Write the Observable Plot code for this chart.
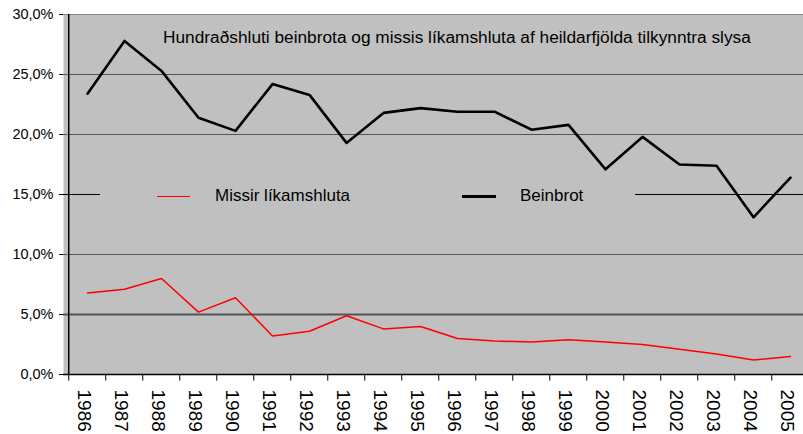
<!DOCTYPE html>
<html><head><meta charset="utf-8">
<script src="https://cdn.jsdelivr.net/npm/d3@7"></script>
<script src="https://cdn.jsdelivr.net/npm/@observablehq/plot@0.6"></script>
<style>
html,body{margin:0;padding:0;background:#fff;}
#wrap{position:relative;width:803px;height:434px;overflow:hidden;font-family:"Liberation Sans",Arial,sans-serif;}
#title{position:absolute;left:163px;top:27px;font-size:17.3px;white-space:nowrap;color:#000;}
#legend{position:absolute;left:100px;top:181px;width:535px;height:30px;background:#c0c0c0;}
.sw{position:absolute;}
.lt{position:absolute;font-size:17px;white-space:nowrap;color:#000;top:5px;}
</style></head>
<body><div id="wrap">
<div id="chart"></div>
<div id="title">Hundraðshluti beinbrota og missis líkamshluta af heildarfjölda tilkynntra slysa</div>
<div id="legend">
 <div class="sw" style="left:57px;top:15px;width:33px;border-top:1.5px solid #ff0000;"></div>
 <div class="lt" style="left:115px;">Missir líkamshluta</div>
 <div class="sw" style="left:362px;top:14px;width:34px;border-top:3px solid #000;"></div>
 <div class="lt" style="left:420px;">Beinbrot</div>
</div>
</div>
<script>
const years = [1986,1987,1988,1989,1990,1991,1992,1993,1994,1995,1996,1997,1998,1999,2000,2001,2002,2003,2004,2005];
const beinbrot = [23.4,27.8,25.3,21.4,20.3,24.2,23.3,19.3,21.8,22.2,21.9,21.9,20.4,20.8,17.1,19.8,17.5,17.4,13.1,16.4];
const missir = [6.8,7.1,8.0,5.2,6.4,3.2,3.6,4.9,3.8,4.0,3.0,2.8,2.7,2.9,2.7,2.5,2.1,1.7,1.2,1.5];
const yTicks = [0,5,10,15,20,25,30];

const rowsB = years.map((y,i)=>({year:y, v:beinbrot[i]}));
const rowsM = years.map((y,i)=>({year:y, v:missir[i]}));
const fmt = d => d.toFixed(1).replace(".", ",") + "%";
const half = (813-63)/years.length/2;

const chart = Plot.plot({
  width: 803, height: 434,
  marginLeft: 63, marginRight: -10, marginTop: 14, marginBottom: 60,
  style: {fontFamily: "'Liberation Sans', Arial, sans-serif", background: "white", color: "black"},
  x: {type: "point", domain: years, padding: 0.5, label: null},
  y: {domain: [0, 30], label: null},
  marks: [
    Plot.frame({fill: "#c0c0c0", stroke: null}),
    Plot.ruleY(yTicks.filter(d => d !== 0 && d !== 15 && d !== 30), {stroke: "#555", strokeWidth: d => d === 5 ? 2 : 1}),
    Plot.ruleY(yTicks.filter(d => d === 15), {stroke: "#000", strokeWidth: 1}),
    Plot.ruleY(yTicks.filter(d => d === 30), {stroke: "#888", strokeWidth: 1}),
    Plot.lineY(rowsM, {x: "year", y: "v", stroke: "#ff0000", strokeWidth: 1.5}),
    Plot.lineY(rowsB, {x: "year", y: "v", stroke: "#000", strokeWidth: 2.6}),
    Plot.ruleY([0], {stroke: "#000", strokeWidth: 1.5}),
    Plot.ruleX([years[0]], {dx: -half, stroke: "#000", strokeWidth: 1.5}),
    Plot.ruleX(years, {x: d => d, y1: 0, y2: -0.55, dx: -half, stroke: "#000"}),
    Plot.axisY(yTicks, {tickSize: 4, tickPadding: 6, fontSize: 14.5, tickFormat: fmt, label: null}),
    Plot.axisX(years, {tickSize: 0, tickRotate: 90, tickPadding: 15, dx: -3, fontSize: 19, tickFormat: d => String(d), label: null})
  ]
});
document.getElementById("chart").appendChild(chart);
</script>
</body></html>
